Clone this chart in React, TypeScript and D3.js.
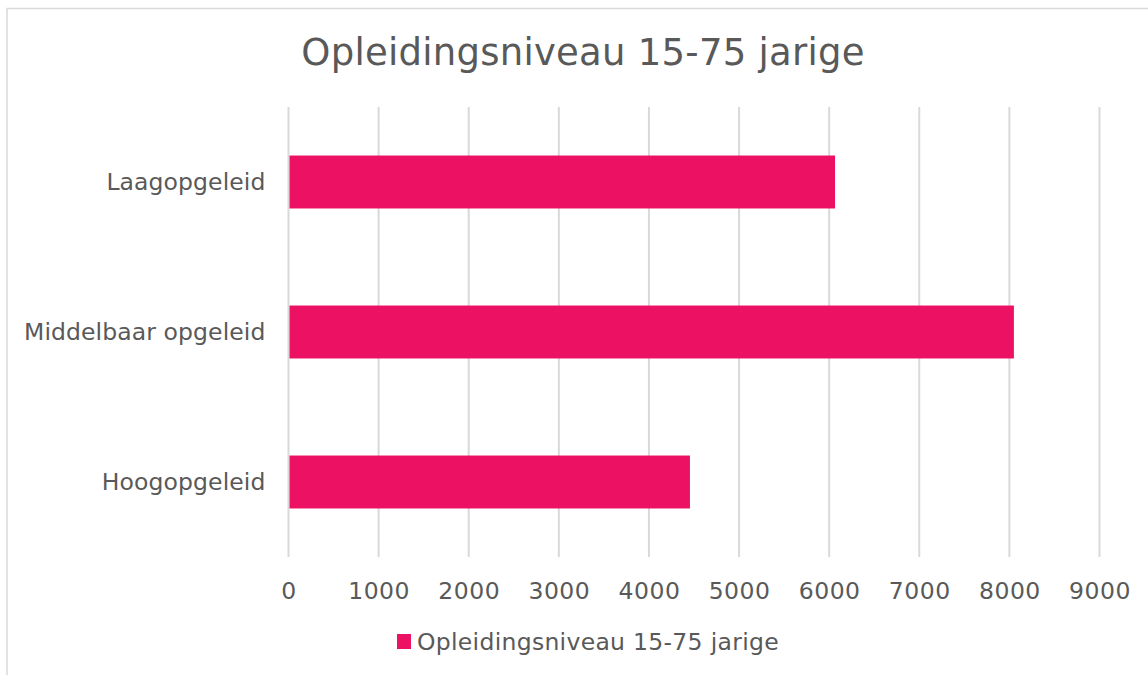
import React, { useEffect, useRef } from 'react';
import * as d3 from 'd3';

// data
const categories = ['Laagopgeleid', 'Middelbaar opgeleid', 'Hoogopgeleid'];
const values = [6065, 8050, 4455];
const xTicks = [0, 1000, 2000, 3000, 4000, 5000, 6000, 7000, 8000, 9000];
const seriesName = 'Opleidingsniveau 15-75 jarige';
const title = 'Opleidingsniveau 15-75 jarige';

const barColor = '#ED1164';
const textColor = '#595959';
const gridColor = '#D9D9D9';
const fontFamily = 'Verdana, "DejaVu Sans", sans-serif';
const labelSize = 23.5;

export default function App() {
    const ref = useRef<SVGSVGElement>(null);
    const width = 1148;
    const height = 675;

    useEffect(() => {
        const svg = d3.select(ref.current);
        svg.selectAll('*').remove();

        const margin = { top: 107, left: 288.5, bottom: 118, right: 48.5 };

        const x = d3.scaleLinear()
            .domain([0, 9000])
            .range([margin.left, width - margin.right]);

        const y = d3.scaleBand()
            .domain(categories)
            .range([margin.top, height - margin.bottom])
            .paddingInner(0.647)
            .paddingOuter(0.647 / 2);

        // background + chart border
        svg.append('rect')
            .attr('x', 0).attr('y', 0)
            .attr('width', width).attr('height', height)
            .attr('fill', 'white');
        svg.append('rect')
            .attr('x', 7).attr('y', 8.5)
            .attr('width', width + 20).attr('height', height + 20)
            .attr('fill', 'none')
            .style('stroke', gridColor)
            .style('stroke-width', 1.5);

        // title
        svg.append('text')
            .attr('x', 583)
            .attr('y', 65)
            .attr('font-size', 37)
            .attr('font-family', fontFamily)
            .attr('fill', textColor)
            .style('letter-spacing', '0.25px')
            .style('text-anchor', 'middle')
            .text(title);

        // vertical gridlines
        svg.append('g')
            .selectAll('line')
            .data(xTicks)
            .join('line')
            .attr('x1', d => x(d)).attr('x2', d => x(d))
            .attr('y1', margin.top).attr('y2', height - margin.bottom)
            .style('stroke', gridColor)
            .style('stroke-width', 2);

        // bars
        svg.append('g')
            .selectAll('rect')
            .data(categories)
            .join('rect')
            .attr('x', x(0) + 1)
            .attr('y', d => y(d) as number)
            .attr('width', (d, i) => x(values[i]) - x(0) - 1)
            .attr('height', y.bandwidth())
            .attr('fill', barColor);

        // x axis labels
        const xAxis = (g: any) => g
            .attr('transform', `translate(0,${height - margin.bottom})`)
            .call(d3.axisBottom(x).tickValues(xTicks).tickSize(0).tickPadding(25)
                .tickFormat(d => String(d)))
            .call((selection: any) => {
                selection.select('.domain').remove();
                selection.selectAll('.tick text')
                    .attr('font-size', labelSize)
                    .attr('font-family', fontFamily)
                    .attr('fill', textColor)
                    .style('letter-spacing', '0.5px');
            });

        // y axis labels
        const yAxis = (g: any) => g
            .attr('transform', `translate(${margin.left}, 0)`)
            .call(d3.axisLeft(y).tickSize(0).tickPadding(23))
            .call((selection: any) => {
                selection.select('.domain').remove();
                selection.selectAll('.tick text')
                    .attr('font-size', labelSize)
                    .attr('font-family', fontFamily)
                    .attr('fill', textColor)
                    .style('letter-spacing', '0.1px');
            });

        svg.append('g').call(xAxis);
        svg.append('g').call(yAxis);

        // legend
        const legend = svg.append('g');
        legend.append('rect')
            .attr('x', 397).attr('y', 634)
            .attr('width', 14).attr('height', 15)
            .attr('fill', barColor);
        legend.append('text')
            .attr('x', 417)
            .attr('y', 650)
            .attr('font-size', labelSize)
            .attr('font-family', fontFamily)
            .attr('fill', textColor)
            .style('letter-spacing', '0.3px')
            .text(seriesName);
    }, []);

    return (
        <svg ref={ref} width={width} height={height}
            style={{ position: 'absolute', left: 0, top: 0, display: 'block' }} />
    );
}
